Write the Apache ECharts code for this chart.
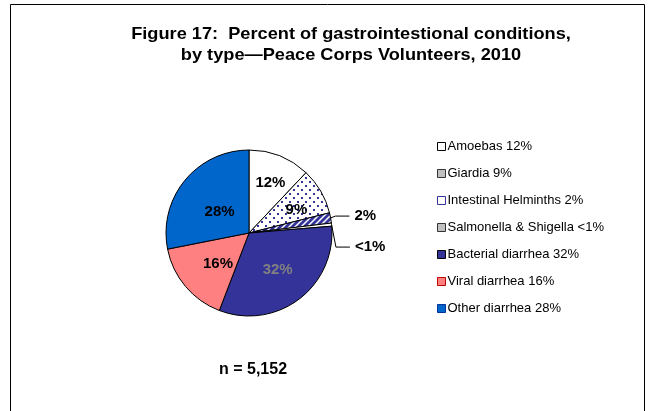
<!DOCTYPE html>
<html>
<head>
<meta charset="utf-8">
<script src="https://cdn.jsdelivr.net/npm/echarts@6/dist/echarts.min.js"></script>
<style>
  html, body { margin: 0; padding: 0; background: #fff; }
  #chart { width: 654px; height: 411px; }
</style>
</head>
<body>
<div id="chart"></div>
<script>
// data
var categories = ['Amoebas', 'Giardia', 'Intestinal Helminths', 'Salmonella & Shigella', 'Bacterial diarrhea', 'Viral diarrhea', 'Other diarrhea'];
var values = [12, 9, 2, 0.6, 32, 16, 28];
var valueLabels = ['12%', '9%', '2%', '<1%', '32%', '16%', '28%'];
var sampleSize = 'n = 5,152';

// small label nudges (px) so inside labels sit like the original
var labelNudge = [[5, -9], [9, -1], [0, 0], [0, 0], [2, 1], [3, 2], [5, 7]];

// fills
function dotPattern() {
    var c = document.createElement('canvas');
    c.width = 8; c.height = 8;
    var ctx = c.getContext('2d');
    ctx.fillStyle = '#fff';
    ctx.fillRect(0, 0, 8, 8);
    ctx.fillStyle = '#333399';
    ctx.fillRect(1, 1, 2, 2);
    ctx.fillRect(5, 5, 2, 2);
    return c;
}
function stripePattern() {
    var c = document.createElement('canvas');
    c.width = 6; c.height = 6;
    var ctx = c.getContext('2d');
    ctx.fillStyle = '#333399';
    ctx.fillRect(0, 0, 6, 6);
    ctx.strokeStyle = '#fff';
    ctx.lineWidth = 1.5;
    ctx.beginPath();
    ctx.moveTo(0, 6); ctx.lineTo(6, 0);
    ctx.moveTo(-1, 1); ctx.lineTo(1, -1);
    ctx.moveTo(5, 7); ctx.lineTo(7, 5);
    ctx.stroke();
    return c;
}

var fills = [
    '#ffffff',
    { image: dotPattern(), repeat: 'repeat' },
    { image: stripePattern(), repeat: 'repeat' },
    '#ffffff',
    '#333399',
    '#ff8080',
    '#0066cc'
];
var legendColors = ['#ffffff', '#c0c0c0', '#ffffff', '#c0c0c0', '#333399', '#ff8080', '#0066cc'];
var legendBorders = ['#000', '#333', '#333399', '#333', '#000', '#c00000', '#003399'];

var pieData = categories.map(function (name, i) {
    var item = {
        name: name,
        value: values[i],
        itemStyle: { color: fills[i] }
    };
    if (i === 2 || i === 3) {
        item.label = { position: 'outside', lineHeight: 29 };
        item.labelLine = { show: true, length: 10, length2: 14 };
    }
    if (i === 4) {
        item.label = { color: '#808080' };
    }
    return item;
});

var legendData = categories.map(function (name, i) {
    return {
        name: name,
        itemStyle: { color: legendColors[i], borderColor: legendBorders[i], borderWidth: 1 }
    };
});

var chart = echarts.init(document.getElementById('chart'));
chart.setOption({
    animation: false,
    textStyle: { fontFamily: 'Liberation Sans, Arial, sans-serif' },
    graphic: [
        {
            type: 'rect',
            shape: { x: 10.5, y: 4.5, width: 634, height: 430 },
            style: { fill: null, stroke: '#000', lineWidth: 1 }
        },
        {
            type: 'text',
            x: 351, y: 24,
            scaleX: 1.07,
            style: {
                text: 'Figure 17:  Percent of gastrointestional conditions,\nby type\u2014Peace Corps Volunteers, 2010',
                textAlign: 'center',
                font: 'bold 17px "Liberation Sans", Arial, sans-serif',
                lineHeight: 21,
                fill: '#000'
            }
        },
        {
            type: 'text',
            x: 253, y: 362,
            style: {
                text: sampleSize,
                textAlign: 'center',
                font: 'bold 16px "Liberation Sans", Arial, sans-serif',
                fill: '#000'
            }
        }
    ],
    legend: {
        orient: 'vertical',
        left: 432,
        top: 135,
        itemWidth: 8,
        itemHeight: 8,
        itemGap: 14,
        icon: 'rect',
        data: legendData,
        formatter: function (name) {
            return name + ' ' + valueLabels[categories.indexOf(name)];
        },
        textStyle: { fontSize: 13, color: '#000', padding: [0, 0, 0, -3] }
    },
    series: [{
        type: 'pie',
        center: [249, 233],
        radius: 83,
        startAngle: 90,
        clockwise: true,
        avoidLabelOverlap: true,
        itemStyle: { borderColor: '#000', borderWidth: 1 },
        label: {
            show: true,
            position: 'inside',
            fontSize: 15,
            fontWeight: 'bold',
            color: '#000',
            formatter: function (p) { return valueLabels[p.dataIndex]; }
        },
        labelLine: { lineStyle: { color: '#000', width: 1 } },
        labelLayout: function (p) {
            var d = labelNudge[p.dataIndex];
            if (!d[0] && !d[1]) return {};
            return { dx: d[0], dy: d[1] };
        },
        emphasis: { disabled: true },
        data: pieData
    }]
});
</script>
</body>
</html>
